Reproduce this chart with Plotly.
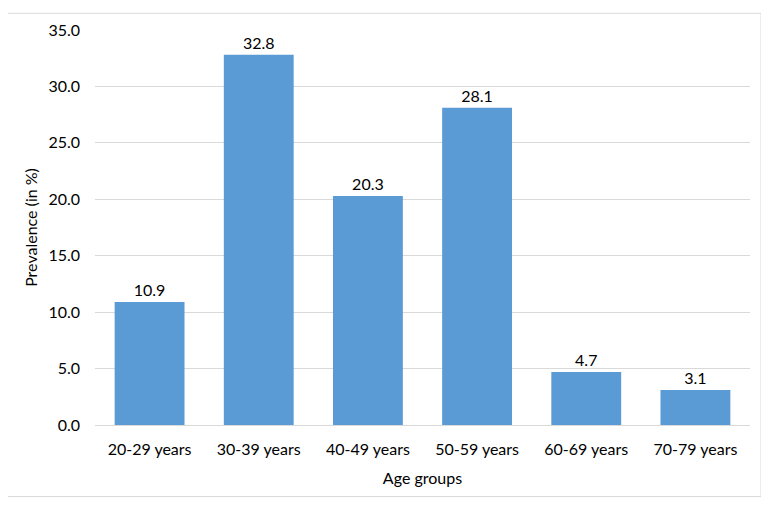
import plotly.graph_objects as go

categories = ["20-29 years", "30-39 years", "40-49 years", "50-59 years", "60-69 years", "70-79 years"]
prevalence = [10.9, 32.8, 20.3, 28.1, 4.7, 3.1]
y_ticks = [0, 5, 10, 15, 20, 25, 30, 35]

FONT = "Lato"
FS = 16
# page body adds an 8px offset; figure is sized/margined to compensate
fig = go.Figure(go.Bar(
    x=categories, y=prevalence,
    marker=dict(color="#5B9BD5", line=dict(width=0)),
    width=0.64,
    text=[f"{v:.1f}" for v in prevalence],
    textposition="outside", cliponaxis=False,
    textfont=dict(family=FONT, size=FS, color="#000000"),
))

fig.update_layout(
    width=761, height=498,
    margin=dict(l=87, r=19, t=14, b=81),
    paper_bgcolor="white", plot_bgcolor="white",
    font=dict(family=FONT, size=FS, color="#000000"),
    showlegend=False,
    xaxis=dict(
        title=dict(text="Age groups", font=dict(size=FS), standoff=15),
        showgrid=False, showline=False, ticks="", tickfont=dict(size=FS),
        ticklabelstandoff=13,
    ),
    yaxis=dict(
        title=dict(text="Prevalence (in %)", font=dict(size=FS), standoff=6),
        range=[0, 35], tickvals=y_ticks, ticktext=[f"{v:.1f}" for v in y_ticks],
        showgrid=True, gridcolor="#D9D9D9", gridwidth=1,
        zeroline=True, zerolinecolor="#D9D9D9", zerolinewidth=1,
        showline=False, ticks="", ticklabelstandoff=14, tickfont=dict(size=FS),
    ),
    shapes=[dict(type="rect", xref="paper", yref="paper",
                 x0=(6 - 95) / 655, x1=(761 - 95) / 655,
                 y0=(425 - 498) / 403, y1=(425 - 5) / 403,
                 line=dict(color="#D9D9D9", width=1), layer="below")],
)
fig.write_html("out.html")
